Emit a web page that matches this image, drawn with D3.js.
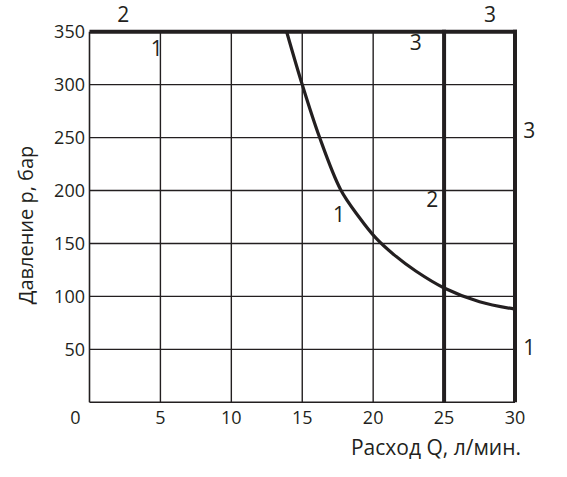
<!DOCTYPE html>
<html><head><meta charset="utf-8">
<script src="https://cdn.jsdelivr.net/npm/d3@7"></script>
<style>body{margin:0;background:#fff}svg{display:block}</style>
</head><body><svg id="c" width="567" height="477"></svg>
<script>
const xTicks=[0,5,10,15,20,25,30];
const yTicks=[50,100,150,200,250,300,350];
// curve 1: Q (l/min), p (bar)
const curveQ=[13.9,15,16.2,17.7,19,20.2,21.5,23,25,27.5,30];
const curveP=[350,300,251,201,175,155,139,124,108,95,88];
// limit lines (2: pressure limit, 3: flow limits)
const limitP=350;
const limitQ=[25,30];
const labels=[
 {t:"2",q:2.38,p:366},{t:"1",q:4.74,p:334},{t:"3",q:23.0,p:340},{t:"3",q:28.24,p:366},
 {t:"3",q:31.01,p:256.5},{t:"2",q:24.17,p:191.7},{t:"1",q:17.59,p:177.5},{t:"1",q:31.0,p:52}
];
const svg=d3.select("#c");
const x=d3.scaleLinear().domain([0,30]).range([89.5,515]);
const y=d3.scaleLinear().domain([0,350]).range([402.3,31.7]);
const ink="#231f20";
const g=svg.append("g");
// grid
g.selectAll(".vx").data(xTicks.filter(d=>d>0&&d<25)).join("line")
 .attr("x1",d=>x(d)).attr("x2",d=>x(d)).attr("y1",y(0)).attr("y2",y(350))
 .attr("stroke",ink).attr("stroke-width",1.4);
g.selectAll(".hy").data(yTicks.filter(d=>d<350)).join("line")
 .attr("x1",x(0)).attr("x2",x(30)).attr("y1",d=>y(d)).attr("y2",d=>y(d))
 .attr("stroke",ink).attr("stroke-width",1.4);
// axes frame left & bottom
g.append("line").attr("x1",x(0)).attr("x2",x(0)).attr("y1",y(0)).attr("y2",y(350)).attr("stroke",ink).attr("stroke-width",1.6);
g.append("line").attr("x1",x(0)).attr("x2",x(30)).attr("y1",y(0)).attr("y2",y(0)).attr("stroke",ink).attr("stroke-width",1.6);
// limit lines
g.append("line").attr("x1",x(0)).attr("x2",x(30)+2).attr("y1",y(limitP)).attr("y2",y(limitP)).attr("stroke",ink).attr("stroke-width",4);
g.selectAll(".lq").data(limitQ).join("line")
 .attr("x1",d=>x(d)).attr("x2",d=>x(d)).attr("y1",y(limitP)-2).attr("y2",y(0))
 .attr("stroke",ink).attr("stroke-width",4);
// curve
const pts=curveQ.map((q,i)=>[q,curveP[i]]);
g.append("path").datum(pts).attr("fill","none").attr("stroke",ink).attr("stroke-width",3.2)
 .attr("d",d3.line().x(d=>x(d[0])).y(d=>y(d[1])).curve(d3.curveCatmullRom.alpha(0.5)));
// tick labels
const font="'Open Sans', sans-serif";
g.selectAll(".xt").data(xTicks).join("text")
 .attr("x",d=>d===0?x(0)-14:x(d)).attr("y",423.5).attr("text-anchor","middle")
 .attr("font-family",font).attr("font-size",18).attr("fill",ink).text(d=>d);
g.selectAll(".yt").data(yTicks).join("text")
 .attr("x",85).attr("y",d=>y(d)+6.4).attr("text-anchor","end")
 .attr("font-family",font).attr("font-size",18).attr("fill",ink).text(d=>d);
// curve labels
g.selectAll(".lb").data(labels).join("text")
 .attr("x",d=>x(d.q)).attr("y",d=>y(d.p)+7.5).attr("text-anchor","middle")
 .attr("font-family",font).attr("font-size",21).attr("fill",ink).text(d=>d.t);
// titles
g.append("text").attr("x",521).attr("y",455).attr("text-anchor","end")
 .attr("font-family",font).attr("font-size",21).attr("fill",ink).text("Расход Q, л/мин.");
g.append("text").attr("transform","translate(33,225) rotate(-90)").attr("text-anchor","middle")
 .attr("font-family",font).attr("font-size",20).attr("fill",ink).text("Давление р, бар");
</script></body></html>
